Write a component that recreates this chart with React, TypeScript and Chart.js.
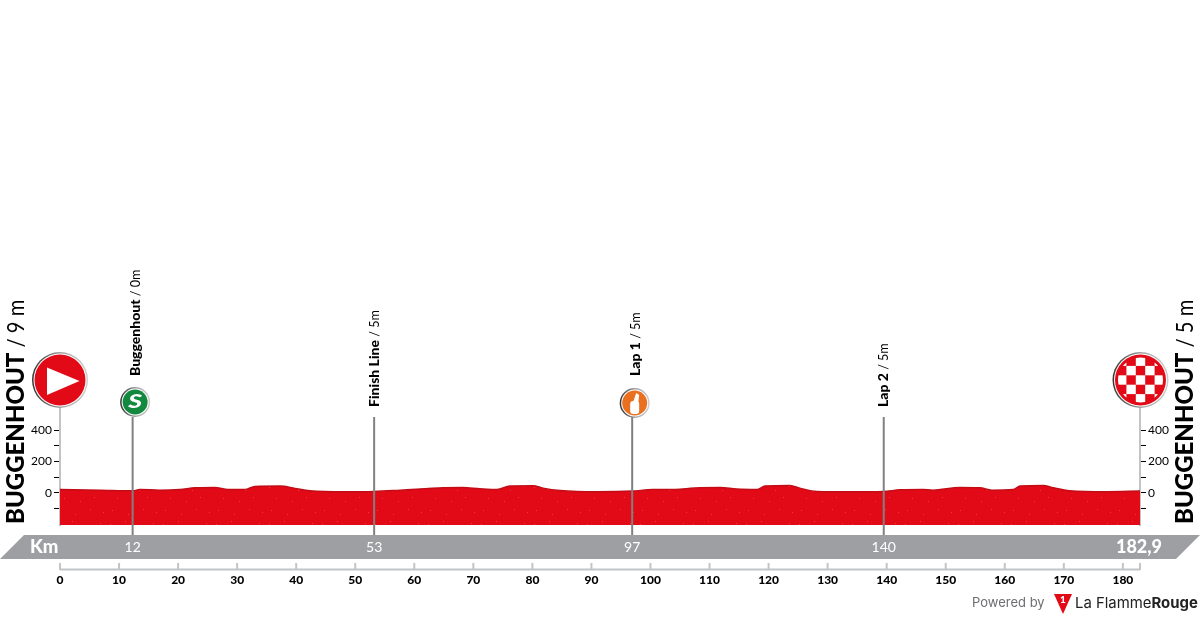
import React, { useEffect, useRef } from "react";
import { Chart, registerables } from "chart.js";

Chart.register(...registerables);

const profileKm = [0, 6.8, 12.4, 13.5, 16.9, 20.3, 22.9, 26.2, 28.5, 31.3, 33, 37.3, 39.8, 42.3, 48.3, 53.2, 57.6, 64.9, 68.2, 71.1, 74, 76.2, 80.1, 81.8, 84.7, 90.9, 96.9, 100.4, 102.8, 108.4, 111.8, 114.6, 118, 119.4, 123.6, 125.3, 128.2, 133.8, 139.4, 142.3, 146.1, 147.8, 152.4, 155.8, 157.8, 161.4, 162.6, 166.5, 168.2, 171, 177.3, 182.9];
const profileElevation = [21, 17, 13, 21, 17, 21, 32, 34, 21, 21, 41, 43, 28, 13, 7, 9, 17, 32, 34, 26, 21, 43, 45, 30, 15, 7, 11, 21, 21, 32, 34, 24, 21, 43, 47, 30, 9, 7, 9, 19, 21, 17, 34, 32, 17, 21, 43, 47, 32, 13, 7, 11];

const xTickValues = [0, 10, 20, 30, 40, 50, 60, 70, 80, 90, 100, 110, 120, 130, 140, 150, 160, 170, 180];
const yTickValues = [-100, 0, 100, 200, 300, 400];
const yLabelled = [0, 200, 400];

const markerKm = [12.3, 53.2, 96.9, 139.5];
const markerBandLabels = ["12", "53", "97", "140"];
const markerNames = ["Buggenhout", "Finish Line", "Lap 1", "Lap 2"];
const markerAltitudes = [" / 0m", " / 5m", " / 5m", " / 5m"];
const markerIcons = ["sprint", "", "feed", ""];

const totalKm = 182.9;
const startTitle = "BUGGENHOUT";
const startAltitude = " / 9 m";
const finishTitle = "BUGGENHOUT";
const finishAltitude = " / 5 m";

const FONT = "Lato, 'Open Sans', sans-serif";
const LOGO_FONT = "Inter, Roboto, sans-serif";

function speckle(): CanvasPattern | string {
  const c = document.createElement("canvas");
  c.width = 53;
  c.height = 37;
  const g = c.getContext("2d");
  if (!g) return "#e30a17";
  g.fillStyle = "#e30a17";
  g.fillRect(0, 0, 53, 37);
  g.fillStyle = "#ee3a3c";
  [[4, 6], [19, 3], [33, 9], [47, 5], [11, 17], [27, 20], [41, 16], [6, 29], [22, 33], [37, 28], [50, 31]].forEach(([x, y]) => g.fillRect(x, y, 1, 1));
  return g.createPattern(c, "repeat") ?? "#e30a17";
}

function rotatedLabel(
  ctx: CanvasRenderingContext2D,
  x: number,
  yBottom: number,
  bold: string,
  regular: string,
  size: number,
  regularScale: number,
) {
  ctx.save();
  ctx.translate(x, yBottom);
  ctx.rotate(-Math.PI / 2);
  ctx.textAlign = "left";
  ctx.textBaseline = "middle";
  ctx.fillStyle = "#000";
  ctx.font = `900 ${size}px ${FONT}`;
  ctx.fillText(bold, 0, 0);
  const w = ctx.measureText(bold).width;
  ctx.font = `400 ${size}px ${FONT}`;
  ctx.translate(w, 0);
  ctx.scale(regularScale, 1);
  ctx.fillText(regular, 0, 0);
  ctx.restore();
}

function rimmedDisc(ctx: CanvasRenderingContext2D, x: number, y: number, r: number, fill: string) {
  ctx.save();
  const rim = ctx.createLinearGradient(x - r, y, x + r, y);
  rim.addColorStop(0, "#333");
  rim.addColorStop(0.55, "#a8a8a8");
  rim.addColorStop(1, "#cfcfcf");
  ctx.beginPath();
  ctx.arc(x, y, r, 0, Math.PI * 2);
  ctx.fillStyle = rim;
  ctx.fill();
  ctx.beginPath();
  ctx.arc(x, y, r - 1.5, 0, Math.PI * 2);
  ctx.fillStyle = "#fff";
  ctx.fill();
  ctx.beginPath();
  ctx.arc(x, y, r - 2.5, 0, Math.PI * 2);
  ctx.fillStyle = fill;
  ctx.fill();
  ctx.restore();
}

const decorations = {
  id: "decorations",
  afterDatasetsDraw(chart: Chart) {
    const ctx = chart.ctx;
    const xs = chart.scales.x;
    ctx.save();

    // km band
    ctx.fillStyle = "#9d9fa2";
    ctx.beginPath();
    ctx.moveTo(24, 535);
    ctx.lineTo(1200, 535);
    ctx.lineTo(1176, 559);
    ctx.lineTo(0, 559);
    ctx.closePath();
    ctx.fill();

    // marker stems
    ctx.strokeStyle = "#808080";
    ctx.lineWidth = 2;
    markerKm.forEach((km) => {
      const px = xs.getPixelForValue(km);
      ctx.beginPath();
      ctx.moveTo(px, 417);
      ctx.lineTo(px, 535);
      ctx.stroke();
    });

    // band labels
    ctx.fillStyle = "#fff";
    ctx.textBaseline = "middle";
    ctx.textAlign = "center";
    ctx.font = `400 14px ${FONT}`;
    markerKm.forEach((km, i) => ctx.fillText(markerBandLabels[i], xs.getPixelForValue(km), 547));
    ctx.font = `900 18.5px ${FONT}`;
    ctx.textAlign = "left";
    ctx.fillText("Km", 30, 547);
    ctx.font = `900 18px ${FONT}`;
    ctx.textAlign = "right";
    ctx.fillText(String(totalKm).replace(".", ","), 1162, 547);

    // ruler
    ctx.strokeStyle = "#c2c4c6";
    ctx.lineWidth = 2;
    ctx.beginPath();
    ctx.moveTo(xs.getPixelForValue(0), 569.5);
    ctx.lineTo(xs.getPixelForValue(totalKm), 569.5);
    [...xTickValues, totalKm].forEach((v) => {
      const px = xs.getPixelForValue(v);
      ctx.moveTo(px, 563);
      ctx.lineTo(px, 570);
    });
    ctx.stroke();

    // marker labels and icons
    markerKm.forEach((km, i) => {
      const px = xs.getPixelForValue(km);
      const icon = markerIcons[i];
      rotatedLabel(ctx, px + (icon ? 3 : 0), icon ? 376 : 407, markerNames[i], markerAltitudes[i], 14, 0.9);
      if (icon === "sprint") {
        rimmedDisc(ctx, px + 2.5, 402, 15, "#12893e");
        ctx.save();
        ctx.translate(px + 2.5, 402);
        ctx.scale(1.4, 1);
        ctx.fillStyle = "#fff";
        ctx.font = `italic 900 19px ${FONT}`;
        ctx.textAlign = "center";
        ctx.textBaseline = "middle";
        ctx.fillText("S", 0, 0);
        ctx.restore();
      }
      if (icon === "feed") {
        rimmedDisc(ctx, px + 2.5, 403, 15, "#e8701f");
        ctx.fillStyle = "#fff";
        ctx.beginPath();
        ctx.roundRect(px - 2, 401, 9, 13, 3);
        ctx.fill();
        ctx.beginPath();
        ctx.moveTo(px + 1, 402);
        ctx.lineTo(px + 4, 393);
        ctx.lineTo(px + 7, 395);
        ctx.lineTo(px + 6, 403);
        ctx.closePath();
        ctx.fill();
      }
    });

    // start badge
    const sx = xs.getPixelForValue(0);
    rimmedDisc(ctx, sx, 380, 28, "#e30a17");
    ctx.fillStyle = "#fff";
    ctx.beginPath();
    ctx.moveTo(sx - 13, 367.5);
    ctx.lineTo(sx + 19.5, 381);
    ctx.lineTo(sx - 13, 395);
    ctx.closePath();
    ctx.fill();

    // finish badge
    const fx = xs.getPixelForValue(totalKm) + 0.5;
    const fy = 380;
    rimmedDisc(ctx, fx, fy, 28, "#e30a17");
    ctx.save();
    ctx.beginPath();
    ctx.arc(fx, fy, 22.5, 0, Math.PI * 2);
    ctx.clip();
    ctx.fillStyle = "#fff";
    const cell = 9.4;
    for (let r = -3; r <= 3; r++) {
      for (let c = -3; c <= 3; c++) {
        if ((r + c + 6) % 2 === 0) ctx.fillRect(fx + c * cell - cell / 2, fy + r * cell - cell / 2, cell, cell);
      }
    }
    ctx.restore();

    // side titles
    rotatedLabel(ctx, 16, 524, startTitle, startAltitude, 24, 0.84);
    rotatedLabel(ctx, 1185, 524, finishTitle, finishAltitude, 24, 0.84);

    // credit
    ctx.textBaseline = "middle";
    ctx.textAlign = "left";
    ctx.fillStyle = "#6d6e71";
    ctx.font = `400 13px ${LOGO_FONT}`;
    ctx.fillText("Powered by", 972, 603);
    ctx.fillStyle = "#e30a17";
    ctx.beginPath();
    ctx.moveTo(1054, 594);
    ctx.lineTo(1072, 594);
    ctx.lineTo(1063, 614);
    ctx.closePath();
    ctx.fill();
    ctx.fillStyle = "#fff";
    ctx.font = `900 10px ${FONT}`;
    ctx.textAlign = "center";
    ctx.fillText("1", 1063, 600);
    ctx.textAlign = "left";
    ctx.fillStyle = "#222";
    ctx.font = `400 14.9px ${LOGO_FONT}`;
    ctx.fillText("La Flamme", 1075, 604);
    const w = ctx.measureText("La Flamme").width;
    ctx.font = `700 14.9px ${LOGO_FONT}`;
    ctx.fillText("Rouge", 1075 + w, 604);
    ctx.restore();
  },
};

export default function App() {
  const ref = useRef<HTMLCanvasElement | null>(null);
  useEffect(() => {
    if (!ref.current) return;
    const yTicksCommon = {
      font: { family: FONT, size: 12 },
      color: "#000",
      padding: 2,
      callback: (v: number | string) => (yLabelled.includes(Number(v)) ? String(v) : ""),
    };
    const gridCommon = { drawOnChartArea: false, tickLength: 6, tickColor: "#000", tickWidth: 1 };
    const setYTicks = (scale: any) => {
      scale.ticks = yTickValues.map((value) => ({ value }));
    };
    const chart = new Chart(ref.current, {
      type: "line",
      data: {
        datasets: [
          {
            data: profileKm.map((x, i) => ({ x, y: profileElevation[i] })),
            borderColor: "#c20d17",
            borderWidth: 1.5,
            backgroundColor: speckle() as any,
            fill: "start",
            pointRadius: 0,
            cubicInterpolationMode: "monotone",
          },
        ],
      },
      options: {
        responsive: false,
        animation: false,
        layout: { padding: { top: 405, left: 0, right: 0, bottom: 0 } },
        plugins: { legend: { display: false }, tooltip: { enabled: false } },
        scales: {
          x: {
            type: "linear",
            min: 0,
            max: totalKm,
            afterBuildTicks: (s: any) => {
              s.ticks = xTickValues.map((value) => ({ value }));
            },
            afterFit: (s: any) => {
              s.height = 95;
            },
            grid: { display: false, drawTicks: false },
            border: { display: false },
            ticks: {
              font: { family: FONT, size: 12, weight: "900" },
              color: "#000",
              padding: 48,
              maxRotation: 0,
              autoSkip: false,
              callback: (v: number | string) => String(v),
            },
          },
          y: {
            min: -205,
            max: 560,
            position: "left",
            afterBuildTicks: setYTicks,
            afterFit: (s: any) => {
              s.width = 60;
            },
            grid: gridCommon,
            border: { color: "#c2c4c6", width: 2 },
            ticks: yTicksCommon,
          },
          y2: {
            min: -205,
            max: 560,
            position: "right",
            afterBuildTicks: setYTicks,
            afterFit: (s: any) => {
              s.width = 60;
            },
            grid: gridCommon,
            border: { color: "#c2c4c6", width: 2 },
            ticks: yTicksCommon,
          },
        },
      },
      plugins: [decorations],
    } as any);
    return () => chart.destroy();
  }, []);
  return (
    <div style={{ position: "fixed", left: 0, top: 0, width: 1200, height: 620, background: "#fff" }}>
      <canvas ref={ref} width={1200} height={620} style={{ display: "block" }} />
    </div>
  );
}
